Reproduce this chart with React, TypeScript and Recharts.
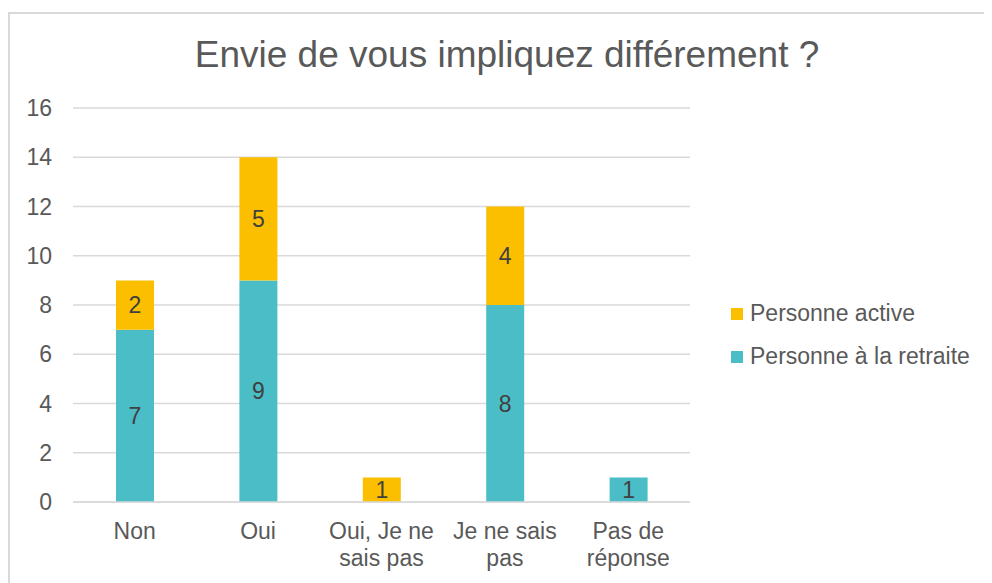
import { BarChart, Bar, XAxis, YAxis, CartesianGrid, LabelList } from 'recharts';

const categories = ['Non', 'Oui', 'Oui, Je ne\nsais pas', 'Je ne sais\npas', 'Pas de\nréponse'];
const retraiteValues = [7, 9, 0, 8, 1];
const activeValues = [2, 5, 1, 4, 0];
const yTicks = [0, 2, 4, 6, 8, 10, 12, 14, 16];

const TEAL = '#4BBDC6';
const YELLOW = '#FBBF00';
const TEXT = '#595959';
const FONT = '"Liberation Sans", Arial, sans-serif';

const data = categories.map((name, i) => ({
  name,
  retraite: retraiteValues[i],
  active: activeValues[i],
}));

const legendItems = [
  { label: 'Personne active', color: YELLOW },
  { label: 'Personne à la retraite', color: TEAL },
];

function XTick({ x, y, payload }: any) {
  const lines = String(payload.value).split('\n');
  return (
    <text x={x} y={y} textAnchor="middle" fill={TEXT} fontSize={23} fontFamily={FONT}>
      {lines.map((line, i) => (
        <tspan key={i} x={x} dy={i === 0 ? 37 : 27}>{line}</tspan>
      ))}
    </text>
  );
}

const hideZero = (v: any) => (v ? v : '');

export default function App() {
  return (
    <div style={{ position: 'relative', width: 984, height: 575, overflow: 'hidden', fontFamily: FONT }}>
      <div style={{ position: 'absolute', left: 0, top: 4, width: 1000, height: 600, border: '2px solid #d9d9d9', boxSizing: 'border-box' }} />
      <div style={{ position: 'absolute', left: 499, top: 28, transform: 'translateX(-50%)', whiteSpace: 'nowrap', fontSize: 37, lineHeight: '37px', color: TEXT }}>
        Envie de vous impliquez différement ?
      </div>
      <div style={{ position: 'absolute', left: 0, top: 0 }}>
        <BarChart width={984} height={575} data={data} margin={{ top: 100, right: 302, bottom: 11, left: 15 }} barSize={38}>
          <CartesianGrid horizontal vertical={false} stroke="#d9d9d9" strokeWidth={1.5} />
          <XAxis dataKey="name" interval={0} axisLine={{ stroke: '#d9d9d9', strokeWidth: 1.5 }} tickLine={false} tickSize={0} tickMargin={0} height={70} tick={<XTick />} />
          <YAxis domain={[0, 16]} ticks={yTicks} axisLine={false} tickLine={false} tickSize={0} tickMargin={21} width={50} tick={{ fill: TEXT, fontSize: 23, fontFamily: FONT }} />
          <Bar dataKey="retraite" stackId="a" fill={TEAL} isAnimationActive={false}>
            <LabelList dataKey="retraite" position="center" fill="#404040" fontSize={23} fontFamily={FONT} formatter={hideZero} />
          </Bar>
          <Bar dataKey="active" stackId="a" fill={YELLOW} isAnimationActive={false}>
            <LabelList dataKey="active" position="center" fill="#404040" fontSize={23} fontFamily={FONT} formatter={hideZero} />
          </Bar>
        </BarChart>
      </div>
      <div style={{ position: 'absolute', left: 723, top: 284, fontSize: 23, color: TEXT }}>
        {legendItems.map((item) => (
          <div key={item.label} style={{ display: 'flex', alignItems: 'center', height: 43 }}>
            <span style={{ width: 12, height: 12, background: item.color, marginRight: 7, display: 'inline-block' }} />
            <span>{item.label}</span>
          </div>
        ))}
      </div>
    </div>
  );
}
